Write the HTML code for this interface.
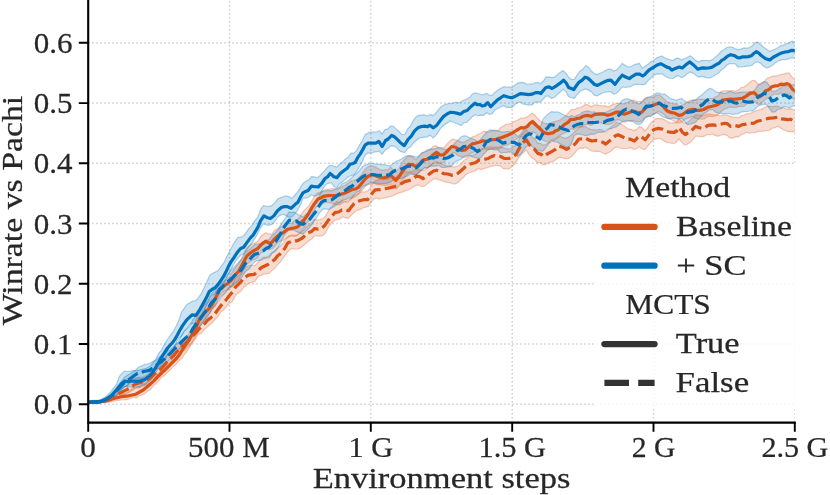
<!DOCTYPE html>
<html><head><meta charset="utf-8"><title>Winrate vs Pachi</title>
<style>html,body{margin:0;padding:0;background:#fff}body{width:830px;height:495px;overflow:hidden}svg{display:block}text{font-family:"Liberation Serif",serif;fill:#262626}</style></head><body>
<svg width="830" height="495" viewBox="0 0 830 495">
<rect width="830" height="495" fill="#fff"/>
<defs><clipPath id="ax"><rect x="88.2" y="0" width="706.5999999999999" height="422.6"/></clipPath></defs>
<path d="M229.5,422.6 V0 M370.8,422.6 V0 M512.2,422.6 V0 M653.5,422.6 V0 M794.8,422.6 V0 M88.2,404.2 H794.8 M88.2,344.0 H794.8 M88.2,283.7 H794.8 M88.2,223.5 H794.8 M88.2,163.3 H794.8 M88.2,103.1 H794.8 M88.2,42.8 H794.8" fill="none" stroke="#cccccc" stroke-width="1.5" stroke-dasharray="1.5 2.5" clip-path="url(#ax)"/>
<g clip-path="url(#ax)">
<path d="M88.2,401.2 L91.0,401.2 L93.9,401.0 L96.7,401.1 L99.5,401.0 L102.3,400.4 L105.2,399.5 L108.0,398.9 L110.8,397.6 L113.6,396.5 L116.5,395.7 L119.3,394.7 L122.1,393.8 L124.9,393.1 L127.8,392.4 L130.6,390.0 L133.4,387.9 L136.2,387.8 L139.1,386.6 L141.9,384.9 L144.7,383.4 L147.5,381.7 L150.4,379.5 L153.2,377.4 L156.0,375.3 L158.9,372.9 L161.7,369.6 L164.5,368.1 L167.3,364.3 L170.2,361.6 L173.0,358.4 L175.8,354.4 L178.6,350.5 L181.5,344.2 L184.3,340.8 L187.1,336.0 L189.9,332.1 L192.8,327.0 L195.6,321.3 L198.4,313.9 L201.2,308.2 L204.1,305.5 L206.9,303.6 L209.7,300.5 L212.5,297.8 L215.4,292.5 L218.2,287.6 L221.0,284.4 L223.8,281.7 L226.7,279.1 L229.5,277.3 L232.3,271.7 L235.2,267.6 L238.0,264.5 L240.8,260.1 L243.6,254.1 L246.5,248.3 L249.3,245.8 L252.1,244.2 L254.9,242.9 L257.8,241.2 L260.6,236.8 L263.4,234.2 L266.2,232.9 L269.1,234.0 L271.9,234.2 L274.7,230.3 L277.5,228.9 L280.4,227.1 L283.2,225.5 L286.0,223.9 L288.8,223.4 L291.7,223.1 L294.5,220.5 L297.3,219.7 L300.2,216.2 L303.0,211.9 L305.8,208.9 L308.6,206.1 L311.5,201.4 L314.3,196.9 L317.1,193.3 L319.9,192.4 L322.8,191.0 L325.6,189.5 L328.4,189.0 L331.2,188.8 L334.1,188.5 L336.9,189.0 L339.7,188.1 L342.5,186.2 L345.4,185.2 L348.2,183.2 L351.0,180.9 L353.8,180.5 L356.7,179.2 L359.5,176.8 L362.3,173.9 L365.1,169.4 L368.0,166.9 L370.8,166.0 L373.6,166.0 L376.5,167.5 L379.3,169.3 L382.1,170.3 L384.9,169.9 L387.8,169.9 L390.6,167.0 L393.4,170.3 L396.2,170.9 L399.1,168.4 L401.9,162.7 L404.7,159.5 L407.5,156.4 L410.4,155.9 L413.2,157.3 L416.0,159.9 L418.8,156.7 L421.7,153.7 L424.5,151.5 L427.3,149.6 L430.1,149.9 L433.0,146.6 L435.8,145.5 L438.6,147.7 L441.4,147.9 L444.3,147.4 L447.1,143.8 L449.9,140.9 L452.8,139.1 L455.6,139.8 L458.4,140.8 L461.2,142.1 L464.1,142.3 L466.9,140.4 L469.7,139.2 L472.5,136.7 L475.4,136.0 L478.2,134.3 L481.0,133.2 L483.8,131.1 L486.7,132.1 L489.5,131.8 L492.3,130.6 L495.1,130.9 L498.0,130.7 L500.8,127.3 L503.6,126.0 L506.4,124.2 L509.3,123.8 L512.1,123.1 L514.9,121.3 L517.8,120.0 L520.6,118.2 L523.4,118.0 L526.2,117.6 L529.1,115.4 L531.9,113.1 L534.7,115.1 L537.5,118.3 L540.4,121.1 L543.2,122.7 L546.0,123.7 L548.8,123.9 L551.7,122.6 L554.5,121.6 L557.3,121.0 L560.1,120.1 L563.0,117.7 L565.8,116.0 L568.6,112.7 L571.4,109.4 L574.3,109.7 L577.1,108.1 L579.9,107.5 L582.8,106.3 L585.6,104.3 L588.4,105.0 L591.2,107.1 L594.1,105.0 L596.9,104.8 L599.7,105.7 L602.5,105.8 L605.4,105.7 L608.2,107.1 L611.0,105.4 L613.8,104.2 L616.7,103.5 L619.5,103.3 L622.3,103.6 L625.1,103.8 L628.0,101.9 L630.8,100.7 L633.6,99.8 L636.4,101.3 L639.3,101.5 L642.1,101.7 L644.9,98.1 L647.7,97.6 L650.6,97.5 L653.4,96.9 L656.2,95.3 L659.1,95.0 L661.9,96.8 L664.7,99.6 L667.5,102.2 L670.4,103.0 L673.2,103.9 L676.0,103.7 L678.8,106.1 L681.7,105.2 L684.5,104.3 L687.3,102.3 L690.1,100.3 L693.0,99.8 L695.8,100.1 L698.6,99.2 L701.4,99.1 L704.3,99.5 L707.1,98.7 L709.9,98.4 L712.7,98.5 L715.6,96.9 L718.4,95.5 L721.2,91.3 L724.1,90.9 L726.9,90.6 L729.7,91.0 L732.5,90.5 L735.4,91.4 L738.2,90.2 L741.0,87.6 L743.8,87.3 L746.7,85.0 L749.5,82.7 L752.3,80.6 L755.1,80.6 L758.0,84.3 L760.8,83.9 L763.6,82.3 L766.4,78.9 L769.3,77.5 L772.1,76.2 L774.9,76.1 L777.7,75.7 L780.6,74.5 L783.4,74.1 L786.2,73.3 L789.0,72.9 L791.9,77.1 L794.7,79.4 L797.5,79.0 L800.4,80.8 L800.4,101.0 L797.5,100.1 L794.7,99.5 L791.9,98.5 L789.0,94.8 L786.2,93.5 L783.4,94.5 L780.6,92.9 L777.7,94.5 L774.9,94.0 L772.1,95.1 L769.3,97.6 L766.4,98.6 L763.6,101.1 L760.8,104.0 L758.0,104.3 L755.1,101.6 L752.3,100.7 L749.5,101.5 L746.7,104.0 L743.8,106.4 L741.0,106.3 L738.2,106.7 L735.4,107.4 L732.5,107.3 L729.7,106.9 L726.9,108.2 L724.1,109.3 L721.2,111.2 L718.4,114.3 L715.6,115.6 L712.7,116.6 L709.9,116.2 L707.1,116.8 L704.3,118.8 L701.4,119.1 L698.6,118.8 L695.8,118.4 L693.0,116.5 L690.1,117.5 L687.3,118.3 L684.5,119.6 L681.7,122.1 L678.8,122.8 L676.0,122.4 L673.2,120.5 L670.4,119.3 L667.5,118.3 L664.7,114.9 L661.9,113.0 L659.1,111.6 L656.2,112.5 L653.4,114.4 L650.6,115.5 L647.7,116.6 L644.9,117.5 L642.1,120.9 L639.3,121.8 L636.4,121.7 L633.6,120.4 L630.8,121.3 L628.0,120.8 L625.1,122.3 L622.3,121.5 L619.5,119.7 L616.7,119.9 L613.8,122.2 L611.0,123.9 L608.2,124.4 L605.4,124.1 L602.5,123.3 L599.7,122.7 L596.9,122.0 L594.1,123.8 L591.2,125.4 L588.4,124.4 L585.6,124.3 L582.8,126.1 L579.9,127.2 L577.1,127.6 L574.3,129.7 L571.4,128.6 L568.6,130.8 L565.8,132.4 L563.0,133.6 L560.1,135.2 L557.3,137.2 L554.5,138.9 L551.7,140.1 L548.8,141.8 L546.0,141.5 L543.2,140.2 L540.4,137.7 L537.5,134.9 L534.7,132.5 L531.9,131.9 L529.1,135.0 L526.2,136.2 L523.4,137.4 L520.6,136.5 L517.8,138.1 L514.9,140.1 L512.1,141.8 L509.3,144.1 L506.4,145.5 L503.6,146.0 L500.8,148.0 L498.0,148.9 L495.1,148.5 L492.3,149.3 L489.5,149.4 L486.7,149.6 L483.8,148.7 L481.0,150.3 L478.2,151.7 L475.4,151.4 L472.5,152.5 L469.7,154.1 L466.9,157.2 L464.1,157.6 L461.2,156.6 L458.4,156.0 L455.6,153.4 L452.8,152.7 L449.9,154.8 L447.1,157.9 L444.3,162.3 L441.4,163.1 L438.6,163.1 L435.8,161.1 L433.0,163.4 L430.1,166.4 L427.3,167.9 L424.5,167.6 L421.7,169.9 L418.8,172.2 L416.0,175.4 L413.2,173.7 L410.4,172.7 L407.5,173.6 L404.7,177.8 L401.9,181.3 L399.1,185.9 L396.2,189.0 L393.4,187.5 L390.6,185.0 L387.8,184.8 L384.9,185.7 L382.1,185.1 L379.3,184.4 L376.5,184.6 L373.6,182.8 L370.8,184.5 L368.0,184.4 L365.1,186.6 L362.3,190.0 L359.5,193.1 L356.7,195.8 L353.8,197.4 L351.0,198.9 L348.2,200.6 L345.4,201.8 L342.5,202.9 L339.7,204.8 L336.9,204.8 L334.1,204.0 L331.2,202.9 L328.4,202.5 L325.6,202.4 L322.8,203.4 L319.9,204.6 L317.1,206.1 L314.3,209.4 L311.5,215.2 L308.6,220.2 L305.8,225.1 L303.0,229.6 L300.2,232.3 L297.3,235.7 L294.5,236.4 L291.7,235.8 L288.8,237.0 L286.0,238.2 L283.2,240.3 L280.4,240.8 L277.5,242.9 L274.7,246.2 L271.9,248.7 L269.1,249.8 L266.2,248.6 L263.4,251.2 L260.6,253.0 L257.8,257.4 L254.9,259.4 L252.1,259.9 L249.3,262.3 L246.5,264.4 L243.6,269.9 L240.8,275.4 L238.0,281.4 L235.2,284.4 L232.3,286.4 L229.5,288.3 L226.7,290.3 L223.8,291.2 L221.0,293.7 L218.2,298.1 L215.4,303.2 L212.5,308.1 L209.7,313.3 L206.9,316.2 L204.1,320.6 L201.2,324.5 L198.4,329.1 L195.6,336.6 L192.8,341.2 L189.9,347.0 L187.1,351.4 L184.3,354.5 L181.5,359.1 L178.6,360.8 L175.8,364.5 L173.0,367.1 L170.2,369.7 L167.3,372.7 L164.5,375.6 L161.7,377.1 L158.9,380.6 L156.0,383.8 L153.2,386.1 L150.4,389.6 L147.5,391.2 L144.7,393.8 L141.9,395.1 L139.1,395.8 L136.2,397.9 L133.4,396.9 L130.6,398.5 L127.8,399.3 L124.9,399.7 L122.1,399.8 L119.3,400.2 L116.5,400.5 L113.6,401.1 L110.8,401.9 L108.0,402.4 L105.2,402.6 L102.3,402.7 L99.5,402.8 L96.7,403.1 L93.9,403.2 L91.0,403.2 L88.2,403.4Z" fill="#D95319" fill-opacity="0.2" stroke="#D95319" stroke-opacity="0.3" stroke-width="1.2" stroke-linejoin="round"/>
<path d="M88.2,401.5 L91.0,401.3 L93.9,401.1 L96.7,400.7 L99.5,400.2 L102.3,399.7 L105.2,398.5 L108.0,397.1 L110.8,395.6 L113.6,393.7 L116.5,391.6 L119.3,389.8 L122.1,388.3 L124.9,386.6 L127.8,384.8 L130.6,380.6 L133.4,378.4 L136.2,377.7 L139.1,377.4 L141.9,377.7 L144.7,376.4 L147.5,375.0 L150.4,372.7 L153.2,369.6 L156.0,367.7 L158.9,364.6 L161.7,361.6 L164.5,358.7 L167.3,354.6 L170.2,351.3 L173.0,348.8 L175.8,345.1 L178.6,342.9 L181.5,340.3 L184.3,339.6 L187.1,337.3 L189.9,336.0 L192.8,331.2 L195.6,328.3 L198.4,324.1 L201.2,316.7 L204.1,314.4 L206.9,312.2 L209.7,309.8 L212.5,308.0 L215.4,304.7 L218.2,301.9 L221.0,298.1 L223.8,294.2 L226.7,291.5 L229.5,286.8 L232.3,284.5 L235.2,278.5 L238.0,275.9 L240.8,273.5 L243.6,269.5 L246.5,266.7 L249.3,265.5 L252.1,265.4 L254.9,265.6 L257.8,262.6 L260.6,259.3 L263.4,257.4 L266.2,257.2 L269.1,255.9 L271.9,252.7 L274.7,250.7 L277.5,248.2 L280.4,246.0 L283.2,242.9 L286.0,239.1 L288.8,235.9 L291.7,235.2 L294.5,235.2 L297.3,234.8 L300.2,233.3 L303.0,230.8 L305.8,227.7 L308.6,225.0 L311.5,222.9 L314.3,219.3 L317.1,220.0 L319.9,219.5 L322.8,218.7 L325.6,215.8 L328.4,211.0 L331.2,206.9 L334.1,204.2 L336.9,201.7 L339.7,202.6 L342.5,200.5 L345.4,201.7 L348.2,202.1 L351.0,198.8 L353.8,195.3 L356.7,194.4 L359.5,192.9 L362.3,191.8 L365.1,192.0 L368.0,190.9 L370.8,187.0 L373.6,182.2 L376.5,180.3 L379.3,179.6 L382.1,178.7 L384.9,178.8 L387.8,179.1 L390.6,177.7 L393.4,177.0 L396.2,176.9 L399.1,174.5 L401.9,173.5 L404.7,171.5 L407.5,172.2 L410.4,171.7 L413.2,171.4 L416.0,168.6 L418.8,169.1 L421.7,170.5 L424.5,170.1 L427.3,168.2 L430.1,165.3 L433.0,163.8 L435.8,162.5 L438.6,162.7 L441.4,164.1 L444.3,164.9 L447.1,166.1 L449.9,165.6 L452.8,167.0 L455.6,166.6 L458.4,165.7 L461.2,163.9 L464.1,160.2 L466.9,158.8 L469.7,156.1 L472.5,155.0 L475.4,154.6 L478.2,151.6 L481.0,149.2 L483.8,147.8 L486.7,147.7 L489.5,147.0 L492.3,147.0 L495.1,147.1 L498.0,147.2 L500.8,146.9 L503.6,148.1 L506.4,148.6 L509.3,149.0 L512.1,147.5 L514.9,145.6 L517.8,142.4 L520.6,136.1 L523.4,132.5 L526.2,129.7 L529.1,132.5 L531.9,137.0 L534.7,138.5 L537.5,143.1 L540.4,143.3 L543.2,145.3 L546.0,144.2 L548.8,142.8 L551.7,141.8 L554.5,139.7 L557.3,138.1 L560.1,136.2 L563.0,137.7 L565.8,138.4 L568.6,137.1 L571.4,135.0 L574.3,132.0 L577.1,129.8 L579.9,126.7 L582.8,126.8 L585.6,126.4 L588.4,128.6 L591.2,129.6 L594.1,129.8 L596.9,129.9 L599.7,129.4 L602.5,130.3 L605.4,132.4 L608.2,129.9 L611.0,126.9 L613.8,124.9 L616.7,122.3 L619.5,123.4 L622.3,124.8 L625.1,126.7 L628.0,128.8 L630.8,129.4 L633.6,130.6 L636.4,129.6 L639.3,126.6 L642.1,127.6 L644.9,131.0 L647.7,127.7 L650.6,123.4 L653.4,120.6 L656.2,118.6 L659.1,118.6 L661.9,118.5 L664.7,119.9 L667.5,121.6 L670.4,123.0 L673.2,122.8 L676.0,122.9 L678.8,118.6 L681.7,121.3 L684.5,123.4 L687.3,122.7 L690.1,120.2 L693.0,117.4 L695.8,114.7 L698.6,115.0 L701.4,115.9 L704.3,115.4 L707.1,114.0 L709.9,114.2 L712.7,114.7 L715.6,114.9 L718.4,115.4 L721.2,115.7 L724.1,115.0 L726.9,114.9 L729.7,116.2 L732.5,116.9 L735.4,117.2 L738.2,117.7 L741.0,115.9 L743.8,115.0 L746.7,113.9 L749.5,113.7 L752.3,112.4 L755.1,111.1 L758.0,110.2 L760.8,109.6 L763.6,108.1 L766.4,106.5 L769.3,106.2 L772.1,106.8 L774.9,106.1 L777.7,106.2 L780.6,107.6 L783.4,107.9 L786.2,109.1 L789.0,109.2 L791.9,108.8 L794.7,110.6 L797.5,110.1 L800.4,111.2 L800.4,132.0 L797.5,131.7 L794.7,132.3 L791.9,131.4 L789.0,131.7 L786.2,131.0 L783.4,129.7 L780.6,127.9 L777.7,126.3 L774.9,127.8 L772.1,128.2 L769.3,130.3 L766.4,130.7 L763.6,130.9 L760.8,131.4 L758.0,131.4 L755.1,132.6 L752.3,132.5 L749.5,133.2 L746.7,132.2 L743.8,133.6 L741.0,134.8 L738.2,136.9 L735.4,136.9 L732.5,138.1 L729.7,138.0 L726.9,135.2 L724.1,134.4 L721.2,135.0 L718.4,136.2 L715.6,135.7 L712.7,134.0 L709.9,134.6 L707.1,134.5 L704.3,136.2 L701.4,136.8 L698.6,136.4 L695.8,136.0 L693.0,139.7 L690.1,142.6 L687.3,144.3 L684.5,145.0 L681.7,142.1 L678.8,138.7 L676.0,142.7 L673.2,143.6 L670.4,142.8 L667.5,142.6 L664.7,141.4 L661.9,139.5 L659.1,138.3 L656.2,138.9 L653.4,139.6 L650.6,142.8 L647.7,146.0 L644.9,149.7 L642.1,149.0 L639.3,146.7 L636.4,148.5 L633.6,149.4 L630.8,147.4 L628.0,148.3 L625.1,148.5 L622.3,148.6 L619.5,147.8 L616.7,146.8 L613.8,148.4 L611.0,151.2 L608.2,152.8 L605.4,154.1 L602.5,152.7 L599.7,151.5 L596.9,151.2 L594.1,151.5 L591.2,150.8 L588.4,148.9 L585.6,147.2 L582.8,148.4 L579.9,147.9 L577.1,150.1 L574.3,153.6 L571.4,156.5 L568.6,158.5 L565.8,158.7 L563.0,158.0 L560.1,157.2 L557.3,158.4 L554.5,160.7 L551.7,161.9 L548.8,162.5 L546.0,164.3 L543.2,165.0 L540.4,162.4 L537.5,163.2 L534.7,159.5 L531.9,158.0 L529.1,154.8 L526.2,149.9 L523.4,152.6 L520.6,155.2 L517.8,158.9 L514.9,163.9 L512.1,166.5 L509.3,168.7 L506.4,168.8 L503.6,168.9 L500.8,166.4 L498.0,165.5 L495.1,165.5 L492.3,166.1 L489.5,166.8 L486.7,167.8 L483.8,168.6 L481.0,169.7 L478.2,168.3 L475.4,170.9 L472.5,171.5 L469.7,172.8 L466.9,173.7 L464.1,176.7 L461.2,179.2 L458.4,182.2 L455.6,183.8 L452.8,183.8 L449.9,182.7 L447.1,182.4 L444.3,181.8 L441.4,180.4 L438.6,179.8 L435.8,178.4 L433.0,179.5 L430.1,181.4 L427.3,183.9 L424.5,186.1 L421.7,186.7 L418.8,185.0 L416.0,185.4 L413.2,187.1 L410.4,189.0 L407.5,190.2 L404.7,191.1 L401.9,192.2 L399.1,192.9 L396.2,193.9 L393.4,195.4 L390.6,196.5 L387.8,197.2 L384.9,197.8 L382.1,198.5 L379.3,199.1 L376.5,198.0 L373.6,199.1 L370.8,202.8 L368.0,206.7 L365.1,207.2 L362.3,208.2 L359.5,210.0 L356.7,210.4 L353.8,212.9 L351.0,215.4 L348.2,218.4 L345.4,217.7 L342.5,216.8 L339.7,218.9 L336.9,219.6 L334.1,220.5 L331.2,223.6 L328.4,227.2 L325.6,232.7 L322.8,235.4 L319.9,236.1 L317.1,236.0 L314.3,236.0 L311.5,239.3 L308.6,241.0 L305.8,243.5 L303.0,246.0 L300.2,248.2 L297.3,248.8 L294.5,249.1 L291.7,248.5 L288.8,250.6 L286.0,254.0 L283.2,257.9 L280.4,262.0 L277.5,264.5 L274.7,268.3 L271.9,270.6 L269.1,273.3 L266.2,273.9 L263.4,274.1 L260.6,275.4 L257.8,276.9 L254.9,281.4 L252.1,282.5 L249.3,282.6 L246.5,285.2 L243.6,287.5 L240.8,291.2 L238.0,293.1 L235.2,296.1 L232.3,301.4 L229.5,303.6 L226.7,306.4 L223.8,309.7 L221.0,311.9 L218.2,316.1 L215.4,319.0 L212.5,322.6 L209.7,324.9 L206.9,327.2 L204.1,329.7 L201.2,333.6 L198.4,334.0 L195.6,338.7 L192.8,342.2 L189.9,345.4 L187.1,347.9 L184.3,350.8 L181.5,352.4 L178.6,354.3 L175.8,357.6 L173.0,361.5 L170.2,364.1 L167.3,367.4 L164.5,370.4 L161.7,374.8 L158.9,377.6 L156.0,379.6 L153.2,381.3 L150.4,383.4 L147.5,384.8 L144.7,385.3 L141.9,386.6 L139.1,387.8 L136.2,388.0 L133.4,389.4 L130.6,391.4 L127.8,393.0 L124.9,394.2 L122.1,395.1 L119.3,396.4 L116.5,397.5 L113.6,398.9 L110.8,400.2 L108.0,400.9 L105.2,401.8 L102.3,402.5 L99.5,402.6 L96.7,403.1 L93.9,403.2 L91.0,403.4 L88.2,403.8Z" fill="#D95319" fill-opacity="0.2" stroke="#D95319" stroke-opacity="0.3" stroke-width="1.2" stroke-linejoin="round"/>
<path d="M88.2,400.4 L91.0,400.6 L93.9,400.4 L96.7,400.5 L99.5,400.5 L102.3,398.8 L105.2,396.9 L108.0,394.4 L110.8,391.7 L113.6,387.9 L116.5,384.1 L119.3,376.4 L122.1,373.2 L124.9,371.0 L127.8,371.5 L130.6,371.1 L133.4,370.5 L136.2,370.6 L139.1,370.1 L141.9,369.3 L144.7,368.7 L147.5,367.7 L150.4,365.9 L153.2,362.5 L156.0,358.6 L158.9,353.1 L161.7,349.6 L164.5,344.3 L167.3,339.5 L170.2,335.7 L173.0,331.7 L175.8,326.7 L178.6,321.1 L181.5,312.2 L184.3,308.2 L187.1,304.2 L189.9,302.7 L192.8,301.0 L195.6,300.7 L198.4,297.7 L201.2,293.6 L204.1,287.8 L206.9,281.7 L209.7,275.5 L212.5,273.3 L215.4,272.1 L218.2,270.3 L221.0,266.6 L223.8,262.9 L226.7,256.7 L229.5,251.6 L232.3,245.9 L235.2,241.1 L238.0,237.3 L240.8,237.3 L243.6,235.7 L246.5,232.1 L249.3,227.9 L252.1,225.4 L254.9,220.6 L257.8,217.0 L260.6,209.4 L263.4,205.7 L266.2,206.2 L269.1,206.4 L271.9,205.6 L274.7,202.9 L277.5,199.1 L280.4,197.8 L283.2,196.9 L286.0,195.7 L288.8,196.6 L291.7,198.3 L294.5,195.5 L297.3,192.3 L300.2,187.8 L303.0,183.4 L305.8,181.1 L308.6,180.0 L311.5,176.6 L314.3,176.8 L317.1,177.9 L319.9,175.7 L322.8,172.6 L325.6,169.4 L328.4,166.4 L331.2,165.0 L334.1,166.4 L336.9,167.0 L339.7,164.0 L342.5,161.9 L345.4,159.0 L348.2,157.3 L351.0,153.1 L353.8,153.2 L356.7,150.3 L359.5,145.0 L362.3,140.8 L365.1,134.8 L368.0,132.9 L370.8,132.1 L373.6,131.9 L376.5,132.0 L379.3,130.7 L382.1,134.1 L384.9,129.6 L387.8,128.8 L390.6,126.0 L393.4,126.4 L396.2,128.9 L399.1,131.5 L401.9,134.7 L404.7,134.5 L407.5,129.2 L410.4,126.0 L413.2,120.4 L416.0,116.9 L418.8,115.4 L421.7,115.1 L424.5,114.9 L427.3,116.0 L430.1,114.4 L433.0,115.6 L435.8,113.3 L438.6,109.4 L441.4,106.5 L444.3,104.8 L447.1,103.9 L449.9,103.5 L452.8,103.2 L455.6,102.0 L458.4,102.8 L461.2,101.7 L464.1,100.0 L466.9,99.1 L469.7,97.3 L472.5,93.9 L475.4,92.9 L478.2,93.5 L481.0,94.7 L483.8,94.4 L486.7,93.2 L489.5,95.4 L492.3,95.2 L495.1,92.2 L498.0,89.9 L500.8,88.3 L503.6,86.7 L506.4,87.0 L509.3,86.9 L512.1,87.6 L514.9,85.1 L517.8,83.1 L520.6,82.4 L523.4,82.6 L526.2,83.9 L529.1,84.0 L531.9,84.3 L534.7,82.9 L537.5,82.3 L540.4,83.9 L543.2,81.3 L546.0,77.1 L548.8,76.9 L551.7,77.6 L554.5,77.1 L557.3,74.6 L560.1,72.5 L563.0,70.5 L565.8,72.9 L568.6,77.3 L571.4,79.5 L574.3,79.3 L577.1,75.0 L579.9,71.1 L582.8,69.2 L585.6,65.5 L588.4,67.1 L591.2,70.8 L594.1,73.5 L596.9,74.6 L599.7,73.2 L602.5,72.3 L605.4,70.6 L608.2,69.2 L611.0,69.3 L613.8,71.3 L616.7,69.8 L619.5,66.9 L622.3,63.3 L625.1,65.4 L628.0,67.0 L630.8,66.5 L633.6,65.0 L636.4,64.1 L639.3,63.3 L642.1,68.2 L644.9,66.3 L647.7,64.6 L650.6,61.7 L653.4,60.9 L656.2,58.1 L659.1,56.9 L661.9,56.0 L664.7,57.8 L667.5,58.9 L670.4,59.8 L673.2,60.5 L676.0,58.3 L678.8,58.2 L681.7,60.0 L684.5,58.5 L687.3,57.4 L690.1,55.7 L693.0,57.8 L695.8,60.6 L698.6,61.9 L701.4,60.6 L704.3,60.3 L707.1,60.5 L709.9,60.8 L712.7,59.4 L715.6,56.9 L718.4,54.5 L721.2,51.2 L724.1,49.4 L726.9,47.4 L729.7,47.2 L732.5,47.2 L735.4,48.8 L738.2,49.6 L741.0,49.1 L743.8,47.9 L746.7,48.2 L749.5,47.6 L752.3,45.8 L755.1,42.5 L758.0,42.2 L760.8,44.7 L763.6,47.2 L766.4,49.0 L769.3,51.4 L772.1,50.4 L774.9,49.2 L777.7,47.7 L780.6,45.7 L783.4,45.2 L786.2,43.9 L789.0,42.7 L791.9,41.0 L794.7,42.4 L797.5,42.0 L800.4,42.1 L800.4,59.2 L797.5,59.8 L794.7,58.8 L791.9,57.7 L789.0,58.6 L786.2,59.4 L783.4,59.7 L780.6,60.1 L777.7,61.3 L774.9,63.1 L772.1,65.5 L769.3,67.2 L766.4,68.0 L763.6,66.3 L760.8,63.4 L758.0,62.0 L755.1,62.3 L752.3,65.1 L749.5,65.9 L746.7,66.2 L743.8,66.7 L741.0,67.0 L738.2,67.0 L735.4,64.0 L732.5,63.5 L729.7,63.6 L726.9,65.0 L724.1,68.1 L721.2,70.2 L718.4,73.3 L715.6,74.8 L712.7,76.5 L709.9,78.0 L707.1,78.0 L704.3,76.9 L701.4,76.4 L698.6,77.2 L695.8,75.3 L693.0,73.1 L690.1,71.9 L687.3,73.5 L684.5,76.2 L681.7,77.8 L678.8,75.7 L676.0,76.4 L673.2,78.5 L670.4,78.3 L667.5,77.5 L664.7,75.7 L661.9,73.6 L659.1,74.1 L656.2,73.9 L653.4,75.7 L650.6,78.4 L647.7,81.1 L644.9,84.5 L642.1,84.7 L639.3,84.5 L636.4,84.2 L633.6,85.0 L630.8,86.6 L628.0,87.0 L625.1,87.5 L622.3,86.8 L619.5,90.3 L616.7,93.2 L613.8,94.2 L611.0,91.7 L608.2,92.0 L605.4,92.2 L602.5,93.0 L599.7,94.4 L596.9,96.0 L594.1,94.9 L591.2,91.6 L588.4,90.1 L585.6,88.9 L582.8,90.0 L579.9,91.5 L577.1,94.6 L574.3,98.3 L571.4,97.7 L568.6,96.8 L565.8,91.4 L563.0,89.2 L560.1,92.2 L557.3,94.5 L554.5,97.3 L551.7,98.4 L548.8,96.2 L546.0,96.1 L543.2,99.2 L540.4,102.1 L537.5,101.8 L534.7,102.4 L531.9,105.0 L529.1,105.1 L526.2,104.6 L523.4,104.1 L520.6,102.0 L517.8,102.6 L514.9,104.6 L512.1,107.4 L509.3,107.4 L506.4,107.4 L503.6,105.6 L500.8,107.0 L498.0,108.3 L495.1,109.7 L492.3,113.6 L489.5,114.4 L486.7,112.7 L483.8,115.4 L481.0,115.2 L478.2,115.7 L475.4,114.7 L472.5,116.5 L469.7,119.4 L466.9,122.3 L464.1,122.6 L461.2,125.6 L458.4,124.2 L455.6,123.2 L452.8,122.0 L449.9,120.9 L447.1,123.4 L444.3,124.7 L441.4,127.5 L438.6,131.3 L435.8,135.6 L433.0,137.9 L430.1,135.1 L427.3,137.0 L424.5,137.2 L421.7,137.7 L418.8,138.3 L416.0,140.8 L413.2,143.3 L410.4,146.8 L407.5,148.8 L404.7,152.5 L401.9,151.9 L399.1,150.7 L396.2,147.2 L393.4,146.1 L390.6,145.8 L387.8,148.7 L384.9,150.3 L382.1,154.4 L379.3,151.0 L376.5,151.7 L373.6,152.2 L370.8,153.1 L368.0,152.8 L365.1,155.3 L362.3,161.8 L359.5,166.7 L356.7,171.3 L353.8,174.9 L351.0,175.7 L348.2,176.7 L345.4,179.4 L342.5,181.8 L339.7,183.7 L336.9,187.7 L334.1,186.7 L331.2,182.6 L328.4,183.3 L325.6,184.7 L322.8,189.2 L319.9,194.1 L317.1,195.2 L314.3,196.1 L311.5,194.7 L308.6,197.3 L305.8,197.8 L303.0,198.5 L300.2,205.4 L297.3,210.8 L294.5,214.1 L291.7,217.1 L288.8,217.1 L286.0,215.6 L283.2,214.3 L280.4,215.1 L277.5,217.3 L274.7,221.7 L271.9,224.4 L269.1,225.3 L266.2,224.6 L263.4,223.8 L260.6,227.7 L257.8,233.2 L254.9,238.7 L252.1,243.0 L249.3,246.7 L246.5,250.2 L243.6,254.1 L240.8,255.0 L238.0,258.1 L235.2,261.6 L232.3,267.0 L229.5,272.0 L226.7,278.1 L223.8,283.4 L221.0,287.9 L218.2,290.9 L215.4,293.7 L212.5,295.2 L209.7,298.3 L206.9,304.5 L204.1,310.7 L201.2,315.8 L198.4,321.0 L195.6,324.1 L192.8,323.4 L189.9,324.2 L187.1,327.8 L184.3,330.8 L181.5,336.2 L178.6,338.2 L175.8,343.7 L173.0,349.2 L170.2,352.3 L167.3,355.6 L164.5,360.5 L161.7,364.3 L158.9,367.8 L156.0,372.7 L153.2,376.3 L150.4,380.4 L147.5,382.9 L144.7,385.1 L141.9,385.2 L139.1,387.2 L136.2,386.5 L133.4,387.6 L130.6,386.8 L127.8,386.9 L124.9,386.1 L122.1,388.4 L119.3,391.5 L116.5,395.9 L113.6,398.5 L110.8,400.4 L108.0,401.4 L105.2,402.3 L102.3,402.6 L99.5,402.8 L96.7,403.0 L93.9,403.1 L91.0,403.2 L88.2,403.4Z" fill="#0072BD" fill-opacity="0.2" stroke="#0072BD" stroke-opacity="0.3" stroke-width="1.2" stroke-linejoin="round"/>
<path d="M88.2,401.1 L91.0,401.0 L93.9,400.6 L96.7,400.3 L99.5,400.1 L102.3,399.0 L105.2,397.7 L108.0,396.0 L110.8,393.8 L113.6,390.8 L116.5,387.4 L119.3,383.9 L122.1,380.3 L124.9,377.0 L127.8,374.7 L130.6,373.6 L133.4,371.5 L136.2,369.5 L139.1,366.8 L141.9,365.9 L144.7,364.4 L147.5,364.0 L150.4,362.8 L153.2,361.2 L156.0,360.3 L158.9,357.5 L161.7,355.6 L164.5,354.4 L167.3,351.1 L170.2,349.8 L173.0,347.1 L175.8,344.1 L178.6,341.3 L181.5,335.3 L184.3,331.5 L187.1,328.6 L189.9,326.1 L192.8,319.8 L195.6,316.1 L198.4,313.1 L201.2,308.4 L204.1,304.2 L206.9,301.7 L209.7,297.1 L212.5,292.4 L215.4,290.1 L218.2,284.6 L221.0,280.1 L223.8,278.0 L226.7,275.4 L229.5,272.3 L232.3,268.9 L235.2,265.9 L238.0,262.8 L240.8,260.0 L243.6,256.5 L246.5,251.4 L249.3,249.5 L252.1,246.9 L254.9,244.2 L257.8,244.0 L260.6,243.5 L263.4,241.6 L266.2,240.3 L269.1,239.6 L271.9,235.5 L274.7,233.6 L277.5,230.2 L280.4,225.4 L283.2,221.0 L286.0,217.0 L288.8,212.2 L291.7,212.3 L294.5,212.3 L297.3,214.0 L300.2,215.5 L303.0,217.2 L305.8,214.4 L308.6,212.1 L311.5,207.8 L314.3,203.5 L317.1,200.6 L319.9,194.8 L322.8,191.0 L325.6,190.9 L328.4,190.4 L331.2,190.9 L334.1,189.8 L336.9,188.8 L339.7,186.6 L342.5,183.5 L345.4,182.6 L348.2,180.7 L351.0,178.2 L353.8,175.8 L356.7,173.2 L359.5,170.6 L362.3,166.8 L365.1,164.9 L368.0,164.1 L370.8,163.2 L373.6,163.7 L376.5,164.1 L379.3,164.3 L382.1,164.6 L384.9,164.5 L387.8,165.7 L390.6,165.4 L393.4,163.6 L396.2,161.3 L399.1,160.3 L401.9,158.7 L404.7,156.8 L407.5,155.5 L410.4,155.7 L413.2,156.0 L416.0,157.3 L418.8,155.9 L421.7,152.6 L424.5,152.0 L427.3,151.1 L430.1,148.9 L433.0,149.1 L435.8,148.4 L438.6,147.6 L441.4,148.0 L444.3,149.5 L447.1,149.2 L449.9,148.5 L452.8,145.2 L455.6,142.5 L458.4,139.9 L461.2,136.7 L464.1,135.7 L466.9,136.4 L469.7,137.7 L472.5,138.8 L475.4,140.0 L478.2,141.8 L481.0,138.9 L483.8,135.4 L486.7,132.1 L489.5,129.9 L492.3,130.1 L495.1,130.0 L498.0,130.9 L500.8,131.7 L503.6,131.9 L506.4,131.5 L509.3,131.3 L512.1,132.5 L514.9,133.7 L517.8,136.5 L520.6,134.3 L523.4,130.0 L526.2,125.7 L529.1,123.0 L531.9,123.3 L534.7,125.6 L537.5,125.7 L540.4,126.4 L543.2,119.1 L546.0,115.9 L548.8,113.5 L551.7,111.6 L554.5,112.2 L557.3,111.8 L560.1,112.9 L563.0,114.5 L565.8,115.8 L568.6,117.1 L571.4,115.4 L574.3,117.0 L577.1,115.2 L579.9,114.2 L582.8,112.1 L585.6,111.2 L588.4,111.1 L591.2,112.0 L594.1,111.9 L596.9,113.1 L599.7,112.5 L602.5,112.5 L605.4,112.3 L608.2,111.2 L611.0,109.7 L613.8,109.2 L616.7,106.2 L619.5,103.8 L622.3,100.4 L625.1,99.1 L628.0,98.8 L630.8,99.9 L633.6,101.8 L636.4,102.9 L639.3,104.0 L642.1,101.6 L644.9,99.2 L647.7,97.2 L650.6,96.5 L653.4,95.2 L656.2,93.2 L659.1,93.0 L661.9,94.4 L664.7,94.2 L667.5,96.1 L670.4,98.7 L673.2,99.3 L676.0,100.4 L678.8,99.2 L681.7,98.5 L684.5,100.9 L687.3,102.2 L690.1,102.2 L693.0,100.6 L695.8,99.6 L698.6,97.2 L701.4,95.2 L704.3,92.8 L707.1,90.1 L709.9,88.3 L712.7,89.4 L715.6,91.7 L718.4,92.6 L721.2,92.6 L724.1,93.5 L726.9,93.1 L729.7,91.0 L732.5,92.3 L735.4,93.1 L738.2,92.7 L741.0,92.1 L743.8,92.1 L746.7,92.2 L749.5,91.3 L752.3,91.8 L755.1,89.7 L758.0,85.2 L760.8,83.4 L763.6,81.6 L766.4,82.0 L769.3,85.5 L772.1,91.5 L774.9,91.2 L777.7,90.0 L780.6,87.9 L783.4,85.2 L786.2,85.9 L789.0,86.2 L791.9,85.1 L794.7,84.3 L797.5,83.6 L800.4,81.2 L800.4,104.4 L797.5,104.9 L794.7,105.7 L791.9,106.4 L789.0,108.3 L786.2,106.8 L783.4,106.7 L780.6,109.0 L777.7,109.5 L774.9,112.0 L772.1,112.2 L769.3,108.2 L766.4,104.4 L763.6,104.3 L760.8,104.9 L758.0,106.1 L755.1,109.0 L752.3,111.0 L749.5,111.0 L746.7,111.5 L743.8,111.7 L741.0,112.1 L738.2,113.8 L735.4,114.1 L732.5,114.5 L729.7,113.5 L726.9,113.5 L724.1,113.9 L721.2,113.4 L718.4,113.1 L715.6,112.1 L712.7,109.6 L709.9,109.7 L707.1,111.6 L704.3,113.4 L701.4,116.0 L698.6,118.8 L695.8,122.1 L693.0,123.4 L690.1,124.1 L687.3,124.7 L684.5,121.3 L681.7,118.1 L678.8,118.8 L676.0,118.4 L673.2,117.9 L670.4,118.8 L667.5,118.4 L664.7,117.4 L661.9,116.5 L659.1,113.9 L656.2,113.0 L653.4,114.4 L650.6,116.7 L647.7,116.2 L644.9,118.4 L642.1,122.6 L639.3,124.7 L636.4,124.0 L633.6,122.0 L630.8,120.9 L628.0,120.6 L625.1,120.5 L622.3,122.0 L619.5,124.3 L616.7,126.6 L613.8,127.5 L611.0,128.7 L608.2,129.1 L605.4,130.9 L602.5,132.3 L599.7,132.1 L596.9,132.7 L594.1,134.3 L591.2,133.9 L588.4,135.1 L585.6,135.7 L582.8,134.8 L579.9,134.2 L577.1,134.1 L574.3,135.5 L571.4,143.7 L568.6,147.5 L565.8,146.7 L563.0,145.5 L560.1,143.9 L557.3,142.1 L554.5,141.6 L551.7,140.3 L548.8,143.5 L546.0,147.3 L543.2,151.0 L540.4,151.1 L537.5,150.1 L534.7,148.8 L531.9,146.4 L529.1,144.7 L526.2,146.7 L523.4,150.4 L520.6,154.3 L517.8,156.4 L514.9,154.2 L512.1,152.4 L509.3,151.8 L506.4,152.4 L503.6,152.5 L500.8,153.0 L498.0,149.8 L495.1,150.0 L492.3,149.1 L489.5,149.1 L486.7,150.9 L483.8,154.0 L481.0,157.5 L478.2,158.5 L475.4,157.6 L472.5,156.9 L469.7,155.5 L466.9,155.6 L464.1,156.4 L461.2,159.0 L458.4,160.6 L455.6,161.6 L452.8,164.9 L449.9,167.0 L447.1,167.1 L444.3,167.4 L441.4,167.3 L438.6,165.3 L435.8,166.1 L433.0,166.2 L430.1,165.9 L427.3,167.8 L424.5,167.9 L421.7,170.0 L418.8,172.8 L416.0,174.8 L413.2,174.6 L410.4,174.1 L407.5,175.9 L404.7,177.0 L401.9,178.4 L399.1,178.6 L396.2,179.0 L393.4,179.7 L390.6,182.0 L387.8,183.1 L384.9,183.6 L382.1,183.6 L379.3,184.0 L376.5,183.4 L373.6,182.9 L370.8,182.9 L368.0,184.1 L365.1,185.4 L362.3,186.9 L359.5,191.4 L356.7,192.3 L353.8,195.2 L351.0,197.8 L348.2,198.2 L345.4,199.7 L342.5,200.0 L339.7,202.6 L336.9,204.4 L334.1,206.7 L331.2,208.2 L328.4,209.5 L325.6,208.8 L322.8,209.2 L319.9,212.3 L317.1,217.0 L314.3,220.9 L311.5,225.2 L308.6,228.7 L305.8,231.1 L303.0,234.2 L300.2,232.9 L297.3,231.9 L294.5,230.2 L291.7,229.9 L288.8,230.1 L286.0,232.8 L283.2,237.2 L280.4,243.2 L277.5,248.5 L274.7,251.8 L271.9,253.6 L269.1,257.8 L266.2,258.1 L263.4,259.0 L260.6,260.3 L257.8,260.4 L254.9,261.8 L252.1,264.6 L249.3,268.9 L246.5,270.4 L243.6,274.2 L240.8,279.0 L238.0,281.0 L235.2,283.1 L232.3,285.8 L229.5,287.7 L226.7,290.6 L223.8,294.0 L221.0,296.3 L218.2,300.0 L215.4,306.1 L212.5,308.5 L209.7,313.3 L206.9,317.8 L204.1,320.4 L201.2,324.6 L198.4,328.0 L195.6,331.6 L192.8,335.0 L189.9,340.7 L187.1,342.7 L184.3,344.9 L181.5,347.8 L178.6,348.8 L175.8,352.4 L173.0,355.8 L170.2,359.3 L167.3,361.9 L164.5,363.4 L161.7,365.8 L158.9,368.0 L156.0,369.3 L153.2,372.2 L150.4,375.5 L147.5,376.7 L144.7,378.0 L141.9,378.7 L139.1,378.4 L136.2,379.3 L133.4,380.3 L130.6,382.1 L127.8,385.4 L124.9,387.0 L122.1,389.4 L119.3,392.3 L116.5,394.9 L113.6,397.1 L110.8,399.4 L108.0,400.9 L105.2,402.1 L102.3,402.5 L99.5,403.0 L96.7,403.1 L93.9,403.3 L91.0,403.3 L88.2,403.5Z" fill="#0072BD" fill-opacity="0.2" stroke="#0072BD" stroke-opacity="0.3" stroke-width="1.2" stroke-linejoin="round"/>
<path d="M88.2,402.3 L100.0,401.8 L108.0,400.3 L114.1,398.5 L121.4,396.7 L128.6,395.8 L135.9,394.2 L143.2,390.0 L150.5,383.9 L153.7,381.1 L157.7,376.7 L161.7,372.8 L165.0,370.0 L168.6,366.3 L172.3,362.7 L176.1,358.9 L179.5,354.8 L182.8,349.0 L187.2,342.6 L189.9,338.2 L192.0,334.8 L196.0,328.0 L199.5,319.0 L203.5,314.0 L205.9,311.0 L208.0,309.5 L212.2,304.5 L216.0,297.0 L219.5,290.0 L222.3,287.7 L225.3,284.9 L227.9,283.4 L231.1,280.5 L235.2,274.6 L238.4,271.8 L240.2,268.5 L242.7,263.8 L245.2,259.0 L247.1,255.8 L251.0,252.5 L253.8,250.7 L257.2,248.9 L260.8,245.1 L265.6,241.3 L268.1,242.5 L270.7,243.8 L273.8,239.7 L277.5,236.2 L280.6,234.2 L284.3,231.9 L287.5,229.3 L291.1,228.5 L294.9,227.7 L297.9,226.8 L301.5,222.1 L304.7,219.2 L308.6,213.6 L311.5,208.2 L314.4,203.7 L318.2,198.8 L320.9,197.9 L323.3,196.3 L328.1,195.7 L331.8,195.5 L336.5,195.4 L340.3,194.6 L344.3,193.2 L348.8,191.2 L352.0,189.5 L355.6,189.0 L358.5,187.2 L361.9,183.1 L365.3,178.7 L368.2,176.3 L372.1,174.5 L375.8,175.7 L378.8,177.0 L381.1,177.5 L383.9,177.9 L387.5,176.9 L390.7,175.3 L393.1,177.6 L395.8,180.4 L399.2,176.4 L402.6,171.1 L405.6,167.4 L408.5,164.3 L412.3,164.5 L416.2,166.8 L419.1,164.4 L423.0,160.1 L426.9,159.3 L429.8,158.4 L433.0,154.8 L436.5,152.4 L439.9,154.8 L443.3,155.0 L447.9,150.5 L451.8,146.5 L455.6,147.3 L458.6,149.0 L462.0,150.4 L465.4,149.9 L468.9,146.7 L472.2,143.9 L475.3,143.2 L479.0,142.2 L482.9,140.7 L485.8,141.4 L488.3,141.3 L490.3,140.0 L496.1,139.3 L500.6,137.9 L506.3,135.7 L510.9,133.8 L516.2,130.5 L521.2,127.6 L523.9,128.0 L527.4,126.6 L530.0,123.3 L532.5,121.5 L535.1,124.0 L537.7,126.6 L540.1,128.7 L542.8,131.8 L545.4,133.1 L548.0,133.8 L550.6,133.2 L553.1,132.8 L555.3,130.9 L558.3,129.7 L561.1,127.6 L564.5,124.5 L568.0,122.3 L570.7,119.4 L574.0,119.5 L576.8,118.4 L579.7,118.2 L583.0,116.3 L587.4,115.4 L591.3,116.3 L594.8,114.3 L599.5,114.2 L604.0,114.2 L607.8,115.3 L611.4,114.2 L616.0,112.2 L619.9,112.2 L624.2,114.2 L627.9,112.9 L632.5,111.2 L635.0,111.5 L638.0,113.0 L642.0,112.0 L644.2,109.4 L646.2,107.3 L649.6,106.3 L653.4,105.2 L656.0,104.1 L659.6,103.2 L662.1,105.0 L664.7,108.3 L667.4,111.0 L670.9,112.4 L675.1,113.3 L679.2,115.5 L682.4,114.6 L685.3,112.4 L688.8,110.0 L693.6,109.3 L696.3,110.3 L699.8,110.4 L703.5,109.5 L708.0,107.3 L712.3,106.3 L716.2,105.2 L719.0,103.9 L722.4,100.1 L726.9,99.5 L730.7,99.0 L733.5,99.3 L736.9,99.0 L739.8,98.7 L743.0,98.0 L745.9,96.4 L749.2,93.9 L751.4,93.0 L754.4,92.8 L757.3,96.0 L759.5,97.0 L762.4,94.9 L765.7,90.8 L768.6,89.8 L771.9,86.7 L775.2,85.9 L778.1,85.6 L780.9,84.1 L784.2,84.6 L787.1,83.6 L789.4,84.6 L792.2,89.0 L794.5,90.8 L797.3,91.2 L800.0,93.0" fill="none" stroke="#D95319" stroke-width="3.2" stroke-linejoin="round" stroke-linecap="round"/>
<path d="M88.2,402.4 L98.0,402.0 L103.0,401.2 L110.0,398.5 L117.7,394.2 L127.4,389.4 L134.7,384.5 L142.0,382.1 L149.2,378.5 L156.5,372.4 L160.7,369.1 L163.8,365.8 L166.5,362.4 L170.0,359.0 L173.9,355.1 L177.0,351.5 L180.7,347.9 L184.0,345.0 L187.1,342.0 L190.0,339.0 L193.0,335.5 L195.9,332.9 L198.7,329.5 L201.7,326.1 L204.8,323.5 L207.5,320.2 L211.4,317.2 L214.3,314.9 L216.9,311.0 L219.5,307.5 L222.0,304.2 L225.3,300.9 L228.2,297.1 L231.1,293.6 L233.2,291.3 L235.5,287.1 L238.4,284.3 L241.3,281.3 L243.3,278.2 L245.6,276.9 L248.4,275.1 L251.5,274.7 L254.4,274.3 L257.3,271.8 L260.4,268.4 L263.1,266.7 L268.0,264.5 L271.8,261.6 L274.9,259.4 L277.6,255.8 L280.0,254.1 L282.0,251.5 L284.7,248.5 L287.7,243.0 L291.6,241.3 L294.5,241.3 L298.2,240.4 L301.3,238.7 L304.7,235.9 L308.1,232.8 L311.4,231.6 L314.8,228.5 L318.2,229.2 L321.6,228.5 L324.8,225.3 L328.4,220.1 L332.2,215.7 L335.2,212.4 L338.7,212.0 L342.0,209.9 L345.6,210.3 L348.8,210.7 L351.1,207.2 L353.9,203.9 L357.5,201.4 L360.7,200.5 L364.5,199.5 L367.5,199.7 L371.0,195.0 L373.5,191.6 L375.5,189.8 L380.3,189.7 L383.9,188.9 L388.2,188.1 L392.4,187.2 L396.9,185.6 L400.9,183.8 L404.9,181.6 L409.4,180.4 L412.8,179.2 L416.2,176.2 L419.7,176.6 L423.0,178.7 L426.7,176.4 L429.8,173.6 L433.6,171.0 L436.5,170.2 L440.2,171.1 L443.3,173.6 L447.8,174.0 L451.8,175.3 L454.9,175.0 L458.6,172.8 L461.6,170.2 L465.4,166.8 L469.2,164.4 L472.2,163.5 L475.3,162.8 L479.0,160.1 L481.4,160.3 L484.0,159.5 L488.2,158.5 L490.8,156.9 L494.4,155.5 L497.2,156.3 L500.6,156.5 L504.2,158.4 L508.8,158.5 L511.9,157.3 L516.1,154.4 L518.3,150.0 L521.2,145.2 L524.1,141.6 L526.4,140.0 L528.7,143.7 L531.5,147.2 L534.5,149.2 L537.7,153.4 L541.3,154.4 L543.9,156.5 L547.4,153.9 L552.1,151.3 L555.8,149.2 L559.3,146.2 L562.5,147.2 L566.5,149.3 L569.1,147.9 L572.7,146.2 L576.1,142.8 L578.9,139.0 L582.4,138.9 L585.1,137.9 L589.1,140.1 L592.3,141.0 L595.9,140.4 L599.5,141.0 L602.8,142.2 L605.7,144.1 L608.4,141.8 L611.9,139.0 L615.4,135.8 L618.1,134.8 L622.3,136.7 L626.3,139.0 L630.4,139.2 L634.5,141.0 L637.7,137.6 L640.0,136.0 L642.7,137.8 L645.2,139.8 L647.8,136.4 L651.3,131.5 L654.5,129.2 L658.5,128.4 L662.0,129.0 L666.8,131.5 L669.9,132.2 L674.0,132.5 L676.6,131.0 L679.2,127.4 L682.7,132.6 L685.3,134.6 L688.1,132.6 L691.5,130.5 L695.6,126.4 L698.5,127.5 L701.8,128.4 L705.0,127.4 L708.0,125.3 L712.4,124.8 L716.2,125.3 L720.2,124.4 L724.5,123.3 L727.1,123.6 L730.7,126.4 L734.7,125.5 L738.9,126.4 L742.2,124.7 L745.1,124.3 L748.7,123.2 L753.3,123.3 L757.1,121.3 L761.6,120.2 L765.7,119.1 L769.8,118.1 L773.7,117.9 L778.1,117.1 L780.9,118.9 L784.2,119.2 L787.8,119.7 L790.4,119.2 L794.5,121.2 L797.2,121.6 L800.0,122.0" fill="none" stroke="#D95319" stroke-width="3.2" stroke-linejoin="round" stroke-linecap="butt" stroke-dasharray="11.6 4.35"/>
<path d="M88.2,402.1 L99.5,401.9 L105.6,399.7 L111.7,395.5 L116.5,390.0 L121.4,383.8 L125.0,381.0 L128.0,381.8 L131.8,381.0 L136.0,381.4 L139.5,381.2 L144.9,379.6 L150.7,374.7 L152.7,372.0 L155.1,368.6 L157.9,363.7 L160.9,358.2 L165.0,352.0 L167.3,348.4 L169.4,346.0 L172.6,342.5 L174.7,339.6 L177.5,334.8 L179.7,330.5 L182.3,326.1 L185.1,322.1 L187.2,319.3 L189.9,316.8 L192.0,314.9 L195.9,315.4 L199.8,309.6 L203.6,302.8 L207.0,296.5 L209.3,291.5 L212.3,289.2 L215.1,287.8 L218.1,284.4 L220.9,280.5 L223.5,276.4 L226.0,271.8 L228.7,265.9 L231.1,261.6 L233.5,258.3 L235.5,255.1 L238.0,251.5 L240.6,248.5 L243.6,247.2 L247.4,241.9 L250.4,237.9 L253.1,235.1 L255.5,231.1 L258.2,226.6 L260.5,220.9 L263.9,215.8 L267.2,217.7 L270.7,218.4 L274.0,215.6 L277.5,210.7 L281.3,207.5 L284.3,206.5 L287.3,206.6 L291.1,208.2 L295.0,204.6 L297.9,202.2 L300.6,196.9 L303.0,192.9 L305.6,191.4 L308.1,190.4 L311.5,186.1 L314.7,186.7 L318.2,187.0 L321.7,183.5 L325.0,178.5 L327.7,176.7 L330.1,173.4 L333.9,176.8 L336.9,177.6 L340.5,173.3 L343.7,170.8 L347.2,168.2 L350.0,164.3 L352.9,163.5 L355.1,162.6 L357.8,157.4 L360.2,154.1 L363.0,149.1 L365.3,144.8 L368.5,143.0 L372.1,143.1 L375.8,143.2 L378.8,141.4 L382.2,146.5 L385.6,140.5 L388.2,139.0 L391.6,135.5 L394.5,136.8 L397.5,139.7 L400.7,143.0 L404.3,145.6 L408.1,139.4 L411.1,136.3 L414.6,130.9 L417.9,127.8 L421.5,126.5 L424.7,126.1 L427.6,126.7 L429.8,125.3 L433.1,127.8 L436.5,125.5 L439.9,121.0 L443.1,116.9 L446.7,114.2 L450.2,112.3 L453.5,112.5 L456.6,113.1 L460.3,114.2 L463.8,111.5 L467.1,110.5 L471.0,106.5 L475.0,103.2 L477.1,104.6 L480.0,104.5 L482.2,106.0 L484.7,105.5 L487.7,102.6 L490.8,106.8 L494.6,102.6 L497.5,99.8 L500.6,97.8 L503.7,95.7 L508.0,97.0 L511.9,97.8 L516.1,95.9 L520.2,93.6 L524.9,94.2 L528.4,94.7 L531.9,94.2 L535.6,92.6 L538.0,92.6 L540.8,93.6 L543.7,90.1 L545.9,87.5 L549.0,86.9 L552.1,88.5 L555.1,86.7 L558.3,84.4 L560.5,82.9 L563.5,80.2 L566.2,83.0 L568.6,87.5 L571.3,88.5 L573.8,89.5 L576.5,85.4 L578.9,82.3 L582.2,80.1 L585.1,77.2 L587.7,78.0 L591.3,81.3 L594.6,84.5 L597.5,85.4 L601.3,83.4 L605.7,81.3 L608.4,80.3 L610.9,80.2 L615.0,84.4 L618.4,79.6 L622.2,75.2 L625.6,77.0 L629.3,78.6 L632.4,76.3 L636.0,74.2 L639.6,74.1 L642.7,76.0 L644.9,74.5 L647.0,72.0 L650.0,69.3 L653.4,67.5 L657.3,64.9 L660.6,63.8 L663.4,65.1 L666.8,67.1 L669.5,67.9 L671.9,70.2 L675.3,68.4 L679.2,67.1 L682.2,68.1 L686.2,64.5 L689.5,61.9 L693.6,65.0 L697.7,69.2 L702.3,67.9 L705.9,68.1 L708.8,68.0 L712.1,67.1 L716.1,64.7 L719.3,63.0 L721.7,60.3 L724.5,58.8 L727.6,56.1 L730.7,54.7 L734.8,55.8 L737.6,57.6 L739.9,57.8 L742.2,56.9 L745.1,56.8 L748.5,56.6 L751.3,55.8 L754.1,53.2 L756.4,51.6 L758.7,53.0 L761.6,55.8 L765.7,58.8 L769.8,59.9 L773.2,57.2 L776.0,55.8 L778.9,54.1 L782.2,52.7 L785.2,52.0 L788.4,51.6 L791.9,50.3 L794.5,50.6 L796.8,51.3 L800.0,50.0" fill="none" stroke="#0072BD" stroke-width="3.2" stroke-linejoin="round" stroke-linecap="round"/>
<path d="M88.2,402.3 L100.0,401.5 L106.0,399.5 L112.0,395.5 L118.0,389.5 L124.5,382.5 L131.0,378.0 L135.0,375.0 L137.6,373.4 L140.5,373.0 L143.5,371.5 L149.3,370.4 L152.0,368.5 L156.0,366.0 L158.2,363.7 L160.9,362.0 L165.0,358.5 L167.9,355.5 L170.9,353.0 L173.6,350.0 L177.2,346.2 L179.9,343.8 L182.0,341.4 L186.2,337.4 L189.8,334.6 L192.7,328.8 L195.6,324.9 L198.5,321.5 L202.7,315.4 L204.8,312.4 L207.5,309.6 L211.4,302.8 L215.3,298.9 L219.5,289.5 L222.1,287.2 L225.3,283.5 L229.3,280.6 L232.5,277.6 L236.5,273.7 L239.8,271.8 L242.5,268.0 L245.6,263.1 L248.8,260.8 L251.5,257.3 L254.8,254.3 L257.3,253.6 L260.3,252.6 L263.1,251.0 L266.1,248.4 L269.0,247.2 L272.4,243.4 L275.8,241.3 L279.7,235.3 L282.6,229.4 L286.1,224.2 L289.4,220.1 L293.2,220.7 L296.2,220.9 L300.0,223.6 L303.0,224.3 L306.4,221.6 L309.8,219.2 L313.3,214.7 L316.5,210.7 L318.8,206.5 L321.6,202.2 L324.4,200.3 L326.7,200.5 L328.9,200.4 L331.8,199.7 L335.0,197.4 L338.6,194.6 L342.0,192.2 L345.4,190.4 L349.3,187.2 L352.2,186.1 L355.3,182.7 L358.5,180.4 L362.0,177.2 L365.3,175.3 L368.5,175.5 L372.1,174.5 L376.1,175.0 L380.5,175.3 L385.3,174.4 L389.0,175.3 L391.9,172.5 L395.8,170.2 L399.5,169.5 L402.6,168.5 L405.7,167.0 L409.4,166.0 L412.4,166.7 L416.2,167.7 L419.1,165.2 L423.0,160.9 L426.8,160.0 L429.8,157.5 L433.4,158.1 L436.5,156.7 L439.4,157.0 L443.3,158.4 L447.2,158.0 L450.1,156.7 L453.4,154.8 L456.9,150.7 L460.4,149.2 L463.7,146.5 L466.9,146.2 L470.5,147.3 L473.8,148.6 L477.3,151.6 L481.0,149.0 L483.5,146.7 L486.2,142.1 L490.1,139.6 L494.4,139.0 L497.9,140.0 L502.7,143.1 L507.2,142.3 L510.9,142.1 L514.8,142.7 L519.2,145.2 L522.1,140.8 L524.3,137.9 L526.7,135.1 L529.5,133.8 L531.7,134.4 L534.6,136.9 L537.3,137.2 L539.8,139.0 L542.0,135.0 L544.9,129.7 L547.3,128.4 L550.1,124.5 L552.8,125.0 L556.2,125.6 L559.6,127.1 L562.4,128.7 L566.0,129.8 L568.6,130.7 L571.4,128.2 L574.8,125.6 L577.4,124.5 L581.0,123.5 L583.9,123.9 L587.2,122.5 L591.7,122.5 L595.4,122.5 L598.9,122.0 L603.6,122.5 L607.4,120.4 L611.9,119.4 L615.6,117.8 L620.1,114.2 L622.8,111.0 L626.3,109.1 L629.8,110.4 L632.5,111.2 L636.1,112.9 L638.7,114.5 L642.0,111.0 L644.4,108.6 L646.2,106.2 L650.1,106.2 L653.4,105.2 L656.5,103.3 L659.6,103.2 L662.4,105.4 L665.8,106.2 L669.9,108.3 L673.0,108.3 L676.9,108.2 L681.2,107.3 L684.6,110.4 L687.4,112.4 L690.8,111.9 L693.6,111.4 L696.9,109.1 L699.8,106.2 L702.6,104.8 L705.9,101.1 L709.5,99.0 L712.1,99.0 L715.7,101.8 L718.3,102.1 L721.6,101.7 L724.5,103.2 L728.0,101.2 L730.7,101.1 L734.3,102.7 L736.9,103.2 L739.5,101.6 L743.0,101.1 L746.2,101.8 L749.2,102.1 L752.5,102.0 L755.4,100.1 L758.2,96.6 L761.6,94.9 L764.5,93.3 L766.7,93.9 L769.6,97.1 L771.9,101.1 L775.3,100.0 L778.1,98.0 L781.5,96.4 L784.2,94.9 L787.1,96.0 L789.4,98.0 L792.1,96.0 L794.5,94.9 L797.6,94.4 L800.0,93.0" fill="none" stroke="#0072BD" stroke-width="3.2" stroke-linejoin="round" stroke-linecap="butt" stroke-dasharray="11.6 4.35"/>
</g>
<rect x="594.4" y="165" width="208" height="243" rx="5" fill="#fff" fill-opacity="0.8"/>
<path d="M88.2,0 V423.65000000000003 M87.15,422.6 H795.8499999999999" fill="none" stroke="#000" stroke-width="2.1"/>
<path d="M88.2,422.6 V431.8 M229.5,422.6 V431.8 M370.8,422.6 V431.8 M512.2,422.6 V431.8 M653.5,422.6 V431.8 M794.8,422.6 V431.8 M88.2,404.2 H78.8 M88.2,344.0 H78.8 M88.2,283.7 H78.8 M88.2,223.5 H78.8 M88.2,163.3 H78.8 M88.2,103.1 H78.8 M88.2,42.8 H78.8" fill="none" stroke="#000" stroke-width="1.9"/>
<path d="M604.4,226.9 H654.6" stroke="#D95319" stroke-width="6.25" stroke-linecap="round"/>
<path d="M604.4,265.7 H654.6" stroke="#0072BD" stroke-width="6.25" stroke-linecap="round"/>
<path d="M604.4,344.05 H654.6" stroke="#333" stroke-width="6.25" stroke-linecap="round"/>
<path d="M604.4,382.9 H654.6" stroke="#333" stroke-width="6.25" stroke-dasharray="24.6 9.2"/>
<g stroke="#262626" stroke-width="0.25" stroke-linejoin="round" opacity="0.995">
<text transform="translate(33.80,414.30) scale(1.0244,1)" font-size="30.3">0.0</text>
<text transform="translate(33.80,354.07) scale(1.0244,1)" font-size="30.3">0.1</text>
<text transform="translate(33.80,293.84) scale(1.0244,1)" font-size="30.3">0.2</text>
<text transform="translate(33.80,233.61) scale(1.0244,1)" font-size="30.3">0.3</text>
<text transform="translate(33.80,173.38) scale(1.0244,1)" font-size="30.3">0.4</text>
<text transform="translate(33.80,113.15) scale(1.0244,1)" font-size="30.3">0.5</text>
<text transform="translate(33.80,52.92) scale(1.0244,1)" font-size="30.3">0.6</text>
<text transform="translate(80.20,456.70) scale(1.0297,1)" font-size="30.3">0</text>
<text transform="translate(188.12,456.70) scale(1.0224,1)" font-size="30.3">500 M</text>
<text transform="translate(348.50,456.70) scale(1.0010,1)" font-size="30.3">1 G</text>
<text transform="translate(478.40,456.70) scale(1.0062,1)" font-size="30.3">1.5 G</text>
<text transform="translate(631.66,456.70) scale(0.9812,1)" font-size="30.3">2 G</text>
<text transform="translate(761.38,456.70) scale(0.9958,1)" font-size="30.3">2.5 G</text>
<text transform="translate(312.64,487.80) scale(1.1663,1)" font-size="29.6">Environment steps</text>
<text transform="translate(625.10,197.00) scale(1.1426,1)" font-size="29.6">Method</text>
<text transform="translate(675.92,235.90) scale(1.1382,1)" font-size="29.6">Baseline</text>
<text transform="translate(676.20,274.60) scale(1.1673,1)" font-size="29.6">+ SC</text>
<text transform="translate(625.28,313.60) scale(1.0610,1)" font-size="29.6">MCTS</text>
<text transform="translate(675.82,352.80) scale(1.1635,1)" font-size="29.6">True</text>
<text transform="translate(675.56,391.50) scale(1.1784,1)" font-size="29.6">False</text>
<text transform="translate(22.40,325.28) rotate(-90) scale(1.1421,1)" font-size="29.6">Winrate vs Pachi</text>
</g>
</svg></body></html>
